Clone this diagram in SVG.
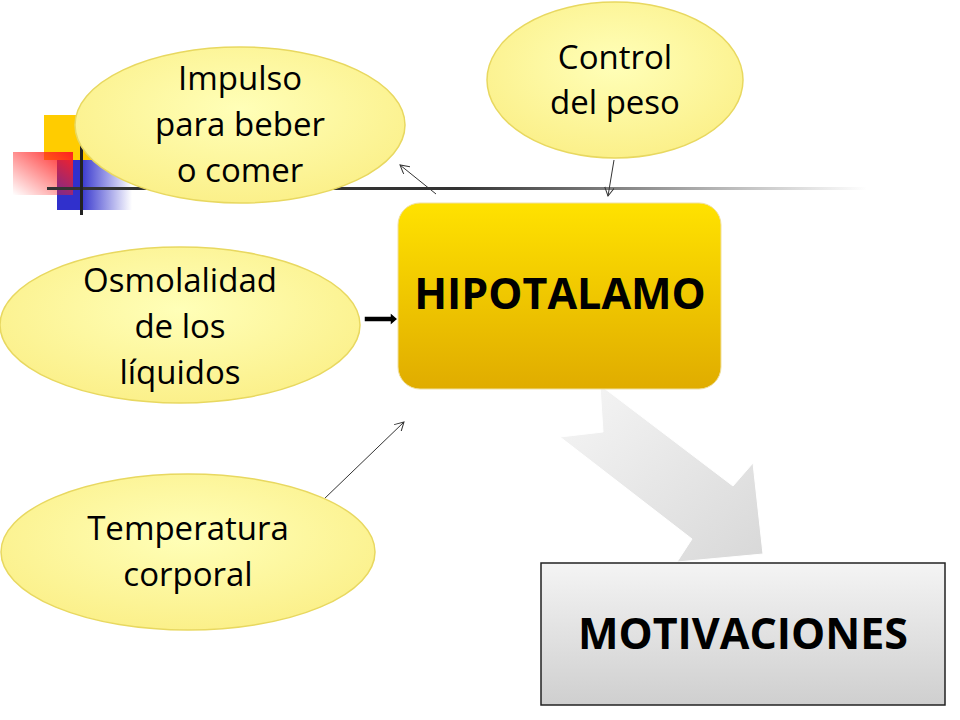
<svg xmlns="http://www.w3.org/2000/svg" width="960" height="720" viewBox="0 0 960 720">
<defs>
<radialGradient id="ell" cx="0.5" cy="0.4" r="0.6"><stop offset="0" stop-color="#ffffb8"/><stop offset="1" stop-color="#fbf08a"/></radialGradient>
<linearGradient id="hip" x1="0" y1="0" x2="0" y2="1"><stop offset="0" stop-color="#ffe200"/><stop offset="1" stop-color="#e0ac00"/></linearGradient>
<linearGradient id="mot" x1="0" y1="0" x2="0" y2="1"><stop offset="0" stop-color="#f4f4f4"/><stop offset="1" stop-color="#cfcfcf"/></linearGradient>
<linearGradient id="big" x1="0" y1="0" x2="1" y2="1"><stop offset="0" stop-color="#f6f6f6"/><stop offset="1" stop-color="#d8d8d8"/></linearGradient>
<linearGradient id="red" x1="1" y1="0" x2="0" y2="1"><stop offset="0" stop-color="#ff2020"/><stop offset="1" stop-color="#ff2020" stop-opacity="0"/></linearGradient>
<linearGradient id="blue" x1="0" y1="0" x2="1" y2="0"><stop offset="0.3" stop-color="#3030cc"/><stop offset="1" stop-color="#3030cc" stop-opacity="0"/></linearGradient>
<linearGradient id="line" x1="0" y1="0" x2="1" y2="0"><stop offset="0.5" stop-color="#333"/><stop offset="1" stop-color="#333" stop-opacity="0"/></linearGradient>
<marker id="ah" markerWidth="10" markerHeight="10" refX="9" refY="5" orient="auto" markerUnits="userSpaceOnUse"><path d="M0,0 L9,5 L0,10" fill="none" stroke="#333" stroke-width="1"/></marker>
<style>
.e{fill:url(#ell);stroke:#e8d860;stroke-width:1.5}
.t{font-family:"Comic Sans MS","Open Sans",sans-serif;font-size:33px;fill:#000;text-anchor:middle}
.b{font-family:"Comic Sans MS","Open Sans",sans-serif;font-size:43px;font-weight:bold;fill:#000;text-anchor:middle}
.c{stroke:#333;stroke-width:1;fill:none;marker-end:url(#ah)}
</style>
</defs>
<g id="decor">
<rect x="44" y="115" width="50" height="45" fill="#ffcc00"/>
<rect x="57" y="160" width="75" height="50" fill="url(#blue)"/>
<rect x="13" y="152" width="60" height="43" fill="url(#red)"/>
<rect x="47" y="187" width="820" height="3" fill="url(#line)"/>
<rect x="80" y="145" width="3" height="70" fill="#222"/>
</g>
<g id="connectors">
<line class="c" x1="436" y1="194" x2="400" y2="165"/>
<line class="c" x1="614" y1="160" x2="608" y2="196"/>
<line class="c" x1="323" y1="500" x2="404" y2="422"/>
<polygon points="364,316 390,316 390,312 398,319 390,326 390,322 364,322" fill="#000" stroke="#fff" stroke-width="1.5"/>
<polygon points="600,385 733,486 753,463 763,554 677,562 692,539 560,437 603,432" fill="url(#big)" stroke="#fff" stroke-width="1"/>
</g>
<g id="impulso"><ellipse class="e" cx="240" cy="125" rx="165" ry="78"/>
<text class="t" x="240" y="90">Impulso</text><text class="t" x="240" y="136">para beber</text><text class="t" x="240" y="182">o comer</text></g>
<g id="control"><ellipse class="e" cx="615" cy="80" rx="128" ry="78"/>
<text class="t" x="615" y="69">Control</text><text class="t" x="615" y="114">del peso</text></g>
<g id="osmo"><ellipse class="e" cx="180" cy="325" rx="180" ry="78"/>
<text class="t" x="180" y="292">Osmolalidad</text><text class="t" x="180" y="338">de los</text><text class="t" x="180" y="384">líquidos</text></g>
<g id="temp"><ellipse class="e" cx="188" cy="552" rx="187" ry="78"/>
<text class="t" x="188" y="540">Temperatura</text><text class="t" x="188" y="586">corporal</text></g>
<g id="hipotalamo"><rect x="398" y="203" width="323" height="186" rx="22" fill="url(#hip)" stroke="#f0e0a0" stroke-width="1"/>
<text class="b" x="560" y="309">HIPOTALAMO</text></g>
<g id="motivaciones"><rect x="541" y="563" width="404" height="142" fill="url(#mot)" stroke="#222" stroke-width="1.5"/>
<text class="b" x="743" y="649">MOTIVACIONES</text></g>
</svg>
